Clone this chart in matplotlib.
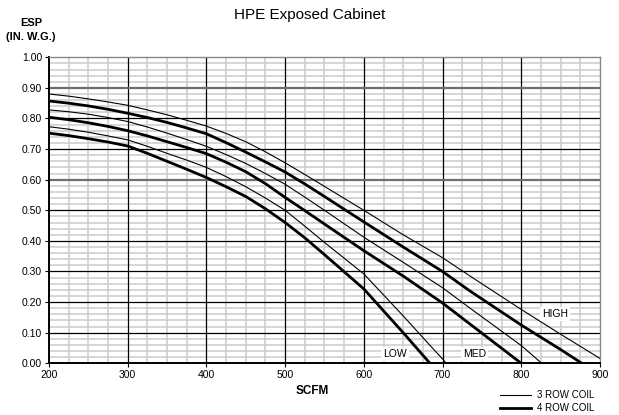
import numpy as np
import matplotlib
matplotlib.use("Agg")
import matplotlib.pyplot as plt

plt.rcParams['font.family'] = ['Liberation Sans', 'DejaVu Sans']

# fan curves (SCFM, ESP in. w.g.)
high_3_x = [200, 225, 250, 275, 300, 325, 350, 375, 400, 425, 450, 475, 500, 525, 550, 600, 650, 700, 735, 800, 850, 900]
high_3_y = [0.880, 0.873, 0.864, 0.854, 0.843, 0.828, 0.812, 0.794, 0.775, 0.751, 0.724, 0.691, 0.655, 0.617, 0.578,
            0.500, 0.420, 0.345, 0.285, 0.176, 0.095, 0.016]
high_4_x = [200, 225, 250, 275, 300, 325, 350, 375, 400, 425, 450, 475, 500, 525, 550, 600, 650, 700, 735, 800, 850, 877]
high_4_y = [0.857, 0.850, 0.841, 0.830, 0.817, 0.803, 0.787, 0.769, 0.750, 0.721, 0.690, 0.658, 0.625, 0.586, 0.545,
            0.462, 0.380, 0.300, 0.236, 0.125, 0.045, 0.0]

med_3_x = [200, 225, 250, 275, 300, 325, 350, 375, 400, 425, 450, 475, 500, 525, 550, 600, 650, 700, 735, 800, 826]
med_3_y = [0.828, 0.822, 0.814, 0.803, 0.790, 0.772, 0.752, 0.731, 0.709, 0.682, 0.653, 0.620, 0.585, 0.543, 0.500,
           0.412, 0.330, 0.247, 0.180, 0.058, 0.0]
med_4_x = [200, 225, 250, 275, 300, 325, 350, 375, 400, 425, 450, 475, 500, 525, 550, 600, 650, 700, 735, 800]
med_4_y = [0.804, 0.796, 0.786, 0.774, 0.760, 0.743, 0.724, 0.705, 0.685, 0.657, 0.626, 0.587, 0.542, 0.499, 0.455,
           0.368, 0.285, 0.197, 0.128, 0.0]

low_3_x = [200, 225, 250, 275, 300, 325, 350, 375, 400, 425, 450, 475, 500, 525, 550, 600, 650, 680, 705]
low_3_y = [0.773, 0.765, 0.755, 0.743, 0.730, 0.709, 0.686, 0.664, 0.640, 0.610, 0.577, 0.540, 0.500, 0.448, 0.395,
           0.292, 0.155, 0.070, 0.0]
low_4_x = [200, 225, 250, 275, 300, 325, 350, 375, 400, 425, 450, 475, 500, 525, 550, 600, 650, 684]
low_4_y = [0.752, 0.744, 0.734, 0.723, 0.710, 0.686, 0.660, 0.634, 0.607, 0.577, 0.545, 0.505, 0.460, 0.410, 0.355,
           0.243, 0.100, 0.0]

labels = ['LOW', 'MED', 'HIGH']
label_x = [640, 741, 843]
label_y = [0.03, 0.03, 0.16]

fig = plt.figure(figsize=(6.19, 4.15), dpi=100)
ax = fig.add_axes([0.0792, 0.1246, 0.890, 0.7374])

ax.set_xlim(200, 900)
ax.set_ylim(0, 1.0)
ax.set_xticks(np.arange(200, 901, 100))
ax.set_yticks(np.arange(0, 1.01, 0.1))
ax.set_yticklabels(['%.2f' % v for v in np.arange(0, 1.01, 0.1)])

# grid by hand so the black major lines sit on top of the gray minor ones
for x in np.arange(225, 900, 25):
    if x % 100:
        ax.axvline(x, color='#cccccc', lw=1.1, zorder=0.5)
for y in np.arange(0.02, 1.0, 0.02):
    if round(y * 100) % 10:
        ax.axhline(y, color='#cccccc', lw=1.1, zorder=0.5)
for x in range(300, 900, 100):
    ax.axvline(x, color='black', lw=0.9, zorder=1)
for y in np.arange(0.1, 1.0, 0.1):
    if round(y * 10) in (6, 9):
        ax.axhline(y, color='#6e6e6e', lw=1.6, zorder=1)
    else:
        ax.axhline(y, color='black', lw=0.9, zorder=1)

ax.tick_params(which='major', direction='out', length=3, width=0.8, labelsize=7.5, colors='black', pad=2)
for s in ['top', 'right']:
    ax.spines[s].set_color('#888888')
    ax.spines[s].set_linewidth(1.0)
for s in ['left', 'bottom']:
    ax.spines[s].set_color('black')
    ax.spines[s].set_linewidth(1.4)

thin = 0.8
thick = 2.0
ax.plot(high_3_x, high_3_y, color='black', lw=thin, zorder=3)
ax.plot(high_4_x, high_4_y, color='black', lw=thick, zorder=3)
ax.plot(med_3_x, med_3_y, color='black', lw=thin, zorder=3)
ax.plot(med_4_x, med_4_y, color='black', lw=thick, zorder=3)
ax.plot(low_3_x, low_3_y, color='black', lw=thin, zorder=3)
ax.plot(low_4_x, low_4_y, color='black', lw=thick, zorder=3)

for t, x, y in zip(labels, label_x, label_y):
    ax.text(x, y, t, fontsize=7.5, ha='center', va='center', zorder=4,
            bbox=dict(facecolor='white', edgecolor='none', pad=1.5))

fig.text(0.5, 0.965, 'HPE Exposed Cabinet', ha='center', va='center', fontsize=11)
fig.text(0.05, 0.945, 'ESP', ha='center', va='center', fontsize=8, fontweight='bold')
fig.text(0.05, 0.912, '(IN. W.G.)', ha='center', va='center', fontsize=8, fontweight='bold')
fig.text(0.505, 0.058, 'SCFM', ha='center', va='center', fontsize=8.5, fontweight='bold')

# legend drawn by hand below the plot
fig.add_artist(plt.Line2D([0.808, 0.858], [0.048, 0.048], color='black', lw=thin))
fig.add_artist(plt.Line2D([0.808, 0.858], [0.018, 0.018], color='black', lw=thick))
fig.text(0.867, 0.048, '3 ROW COIL', ha='left', va='center', fontsize=7)
fig.text(0.867, 0.018, '4 ROW COIL', ha='left', va='center', fontsize=7)

fig.savefig('out.png', dpi=100)
